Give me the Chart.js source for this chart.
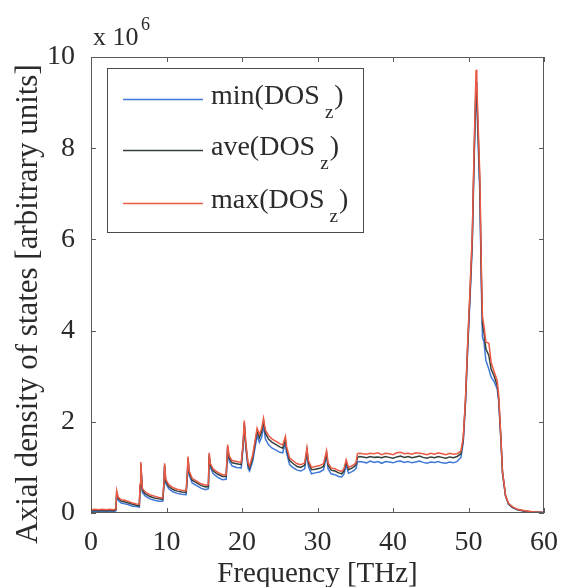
<!DOCTYPE html>
<html>
<head>
<meta charset="utf-8">
<script src="https://cdn.jsdelivr.net/npm/chart.js@4.4.1/dist/chart.umd.min.js"></script>
<style>
  html, body { margin: 0; padding: 0; background: #ffffff; }
  #wrap { width: 563px; height: 587px; position: relative; }
  .preload { font-family: "Liberation Serif"; position: absolute; left: -999px; top: 0; }
</style>
</head>
<body>
<span class="preload">Axial 0123456789</span>
<div id="wrap"><canvas id="dos" width="563" height="587"></canvas></div>
<script>
// Frequency grid [THz]
const freq = [
  0, 0.5, 1, 1.5, 2, 2.5, 3, 3.3, 3.4, 3.6,
  4, 4.5, 5, 5.5, 6, 6.4, 6.5, 6.6, 6.8, 7.2,
  7.8, 8.4, 9, 9.5, 9.65, 9.75, 9.9, 10.3, 10.8, 11.4,
  12, 12.6, 12.75, 12.85, 13.0, 13.4, 14, 14.6, 15.2, 15.55,
  15.65, 15.8, 16.2, 16.8, 17.4, 17.9, 18.1, 18.3, 18.7, 19.3,
  19.9, 20.15, 20.3, 20.5, 20.8, 21.0, 21.4, 21.8, 22.0, 22.3,
  22.6, 22.85, 23.1, 23.5, 24.0, 24.5, 25.0, 25.4, 25.75, 25.9,
  26.3, 26.8, 27.3, 27.8, 28.3, 28.6, 28.8, 29.2, 29.7, 30.3,
  30.8, 31.2, 31.4, 31.8, 32.3, 32.8, 33.2, 33.5, 33.8, 34.1,
  34.5, 34.9, 35.1, 35.3, 35.6,
  36, 36.5, 37, 37.5, 38, 38.5, 39, 39.5, 40, 40.5,
  41, 41.5, 42, 42.5, 43, 43.5, 44, 44.5, 45, 45.5,
  46, 46.5, 47, 47.5, 48, 48.5,
  49.0, 49.3, 49.6, 49.9, 50.2, 50.5, 50.75, 51.0, 51.1, 51.3,
  51.5, 51.7, 51.85, 52.05, 52.3, 52.7, 53.0, 53.4, 53.8, 54.0,
  54.3, 54.5, 54.9, 55.3, 55.8, 56.5, 57.5, 58.5, 60
];

// Axial DOS, in units of 10^6
const dosMin = [
  0.03, 0.04, 0.03, 0.04, 0.03, 0.04, 0.03, 0.05, 0.42, 0.28,
  0.22, 0.20, 0.18, 0.15, 0.14, 0.13, 0.56, 1.04, 0.45, 0.37,
  0.31, 0.28, 0.26, 0.26, 0.56, 1.01, 0.65, 0.53, 0.47, 0.43,
  0.41, 0.40, 0.76, 1.16, 0.83, 0.66, 0.60, 0.54, 0.51, 0.53,
  1.24, 1.00, 0.86, 0.78, 0.73, 0.74, 1.40, 1.14, 1.03, 1.00,
  0.99, 1.45, 1.94, 1.44, 0.98, 0.92, 1.12, 1.50, 1.70, 1.55,
  1.66, 1.92, 1.62, 1.50, 1.42, 1.38, 1.33, 1.32, 1.55, 1.32,
  1.06, 0.99, 0.94, 0.92, 0.97, 1.32, 1.02, 0.86, 0.88, 0.90,
  0.95, 1.26, 0.97, 0.86, 0.84, 0.80, 0.79, 0.85, 1.05, 0.87,
  0.90, 0.94, 0.98, 1.12, 1.13,
  1.12, 1.10, 1.14, 1.11, 1.13, 1.09, 1.13, 1.12, 1.10, 1.13,
  1.14, 1.11, 1.13, 1.10, 1.12, 1.14, 1.11, 1.09, 1.12, 1.11,
  1.13, 1.10, 1.09, 1.12, 1.10, 1.13,
  1.22, 1.55, 2.40, 3.62, 4.70, 5.88, 7.75, 9.25, 9.00, 8.00,
  7.00, 5.00, 3.85, 3.75, 3.35, 3.15, 2.98, 2.88, 2.72, 2.45,
  1.56, 0.88, 0.37, 0.19, 0.12, 0.07, 0.04, 0.02, 0.01
];
const dosAve = [
  0.05, 0.06, 0.05, 0.06, 0.05, 0.06, 0.05, 0.07, 0.45, 0.32,
  0.26, 0.24, 0.22, 0.19, 0.17, 0.16, 0.60, 1.08, 0.50, 0.42,
  0.36, 0.33, 0.31, 0.30, 0.60, 1.05, 0.70, 0.58, 0.52, 0.48,
  0.46, 0.45, 0.80, 1.20, 0.88, 0.72, 0.66, 0.60, 0.57, 0.58,
  1.28, 1.05, 0.92, 0.85, 0.80, 0.80, 1.45, 1.20, 1.10, 1.08,
  1.06, 1.50, 1.98, 1.50, 1.05, 0.98, 1.20, 1.60, 1.80, 1.65,
  1.78, 2.02, 1.75, 1.62, 1.55, 1.50, 1.45, 1.42, 1.62, 1.40,
  1.15, 1.08, 1.02, 1.00, 1.05, 1.38, 1.10, 0.95, 0.96, 0.98,
  1.02, 1.32, 1.05, 0.94, 0.92, 0.88, 0.86, 0.92, 1.12, 0.95,
  0.98, 1.02, 1.06, 1.22, 1.24,
  1.23, 1.21, 1.24, 1.22, 1.23, 1.21, 1.24, 1.22, 1.20, 1.23,
  1.25, 1.22, 1.24, 1.21, 1.23, 1.25, 1.22, 1.20, 1.23, 1.21,
  1.24, 1.22, 1.20, 1.23, 1.21, 1.24,
  1.30, 1.60, 2.45, 3.70, 4.80, 6.00, 7.90, 9.45, 9.20, 8.20,
  7.20, 5.20, 4.15, 3.95, 3.60, 3.45, 3.15, 3.00, 2.80, 2.50,
  1.60, 0.90, 0.38, 0.20, 0.13, 0.07, 0.04, 0.02, 0.01
];
const dosMax = [
  0.07, 0.08, 0.07, 0.08, 0.07, 0.08, 0.07, 0.09, 0.49, 0.35,
  0.29, 0.28, 0.25, 0.22, 0.20, 0.19, 0.64, 1.12, 0.54, 0.46,
  0.40, 0.37, 0.34, 0.33, 0.64, 1.09, 0.74, 0.62, 0.56, 0.52,
  0.50, 0.49, 0.84, 1.24, 0.92, 0.76, 0.70, 0.64, 0.61, 0.62,
  1.32, 1.09, 0.96, 0.89, 0.84, 0.84, 1.50, 1.25, 1.15, 1.13,
  1.11, 1.55, 2.03, 1.55, 1.10, 1.03, 1.26, 1.66, 1.86, 1.72,
  1.85, 2.08, 1.82, 1.70, 1.62, 1.57, 1.52, 1.49, 1.68, 1.46,
  1.21, 1.14, 1.08, 1.06, 1.10, 1.43, 1.15, 1.00, 1.02, 1.04,
  1.08, 1.37, 1.10, 0.99, 0.97, 0.93, 0.91, 0.97, 1.17, 1.00,
  1.03, 1.07, 1.11, 1.30, 1.31,
  1.30, 1.29, 1.31, 1.30, 1.32, 1.28, 1.31, 1.30, 1.28, 1.32,
  1.33, 1.30, 1.31, 1.29, 1.32, 1.31, 1.30, 1.28, 1.31, 1.29,
  1.32, 1.30, 1.28, 1.31, 1.29, 1.30,
  1.36, 1.65, 2.50, 3.78, 4.90, 6.10, 8.05, 9.72, 9.45, 8.40,
  7.40, 5.40, 4.30, 4.10, 3.75, 3.72, 3.30, 3.10, 2.90, 2.58,
  1.64, 0.92, 0.39, 0.21, 0.14, 0.08, 0.05, 0.03, 0.01
];

const seriesLabels = ['min(DOS', 'ave(DOS', 'max(DOS'];
const seriesSub = 'z';
const seriesColors = ['#3f78d6', '#34403e', '#ea5a44'];
const xTicks = [0, 10, 20, 30, 40, 50, 60];
const yTicks = [0, 2, 4, 6, 8, 10];

const SERIF = '"Liberation Serif"';
const TEXT = '#2b2b2b';
const AXIS = '#5a5a5a';

function pts(vals) { return freq.map((f, i) => ({ x: f, y: vals[i] })); }

const frame = {
  id: 'frame',
  afterDatasetsDraw(chart) {
    const { ctx, chartArea: a, scales } = chart;
    ctx.save();
    ctx.strokeStyle = AXIS;
    ctx.lineWidth = 1;
    ctx.strokeRect(a.left + 0.5, a.top + 0.5, a.right - a.left - 1, a.bottom - a.top - 1);
    const tl = 5;
    ctx.beginPath();
    xTicks.forEach(v => {
      const px = Math.round(scales.x.getPixelForValue(v)) + 0.5;
      ctx.moveTo(px, a.bottom); ctx.lineTo(px, a.bottom - tl);
      ctx.moveTo(px, a.top); ctx.lineTo(px, a.top + tl);
    });
    yTicks.forEach(v => {
      const py = Math.round(scales.y.getPixelForValue(v)) + 0.5;
      ctx.moveTo(a.left, py); ctx.lineTo(a.left + tl, py);
      ctx.moveTo(a.right, py); ctx.lineTo(a.right - tl, py);
    });
    ctx.stroke();

    // axis titles
    ctx.fillStyle = TEXT;
    ctx.font = '29px ' + SERIF;
    ctx.textAlign = 'center';
    ctx.textBaseline = 'alphabetic';
    ctx.fillText('Frequency [THz]', (a.left + a.right) / 2, 582);
    ctx.save();
    ctx.translate(37, 304);
    ctx.rotate(-Math.PI / 2);
    ctx.font = '31px ' + SERIF;
    ctx.fillText('Axial density of states [arbitrary units]', 0, 0);
    ctx.restore();

    // exponent label
    ctx.textAlign = 'left';
    ctx.font = '26px ' + SERIF;
    ctx.fillText('x 10', 93, 45);
    ctx.font = '18px ' + SERIF;
    ctx.fillText('6', 141, 30);

    // legend
    const L = { x: 107, y: 68, w: 256, h: 164 };
    ctx.fillStyle = '#ffffff';
    ctx.fillRect(L.x, L.y, L.w, L.h);
    ctx.strokeStyle = '#4a4a4a';
    ctx.strokeRect(L.x + 0.5, L.y + 0.5, L.w, L.h);
    const rows = [99, 150, 203];
    seriesLabels.forEach((lab, i) => {
      const y = rows[i];
      ctx.strokeStyle = seriesColors[i];
      ctx.lineWidth = 1.4;
      ctx.beginPath();
      ctx.moveTo(123, y + 0.5); ctx.lineTo(203, y + 0.5);
      ctx.stroke();
      ctx.fillStyle = TEXT;
      ctx.font = '28px ' + SERIF;
      ctx.fillText(lab, 211, y + 5);
      const w = ctx.measureText(lab).width;
      ctx.font = '19px ' + SERIF;
      ctx.fillText(seriesSub, 211 + w + 5, y + 19);
      const sw = ctx.measureText(seriesSub).width;
      ctx.font = '28px ' + SERIF;
      ctx.fillText(')', 211 + w + 5 + sw + 1, y + 5);
    });
    ctx.restore();
  }
};

const makeSet = (i, vals, order) => ({
  label: seriesLabels[i] + seriesSub + ')',
  data: pts(vals),
  borderColor: seriesColors[i],
  backgroundColor: seriesColors[i],
  borderWidth: 1.5,
  pointRadius: 0,
  tension: 0,
  order: order
});

function build() {
  new Chart(document.getElementById('dos'), {
    type: 'line',
    data: {
      datasets: [
        makeSet(0, dosMin, 2),
        makeSet(1, dosAve, 1),
        makeSet(2, dosMax, 0)
      ]
    },
    options: {
      responsive: false,
      animation: false,
      layout: { padding: { top: 57, right: 18, left: 0, bottom: 0 } },
      plugins: { legend: { display: false }, tooltip: { enabled: false } },
      scales: {
        x: {
          type: 'linear', min: 0, max: 60,
          afterBuildTicks(s) { s.ticks = xTicks.map(v => ({ value: v })); },
          afterFit(s) { s.height = 74; },
          grid: { display: false },
          border: { display: false },
          ticks: { color: TEXT, font: { family: SERIF, size: 28 }, padding: 5, maxRotation: 0 }
        },
        y: {
          type: 'linear', min: 0, max: 10,
          afterBuildTicks(s) { s.ticks = yTicks.map(v => ({ value: v })); },
          afterFit(s) { s.width = 91; },
          grid: { display: false },
          border: { display: false },
          ticks: { color: TEXT, font: { family: SERIF, size: 28 }, padding: 8 }
        }
      }
    },
    plugins: [frame]
  });
}

document.fonts.load('28px "Liberation Serif"').then(build, build);
</script>
</body>
</html>
